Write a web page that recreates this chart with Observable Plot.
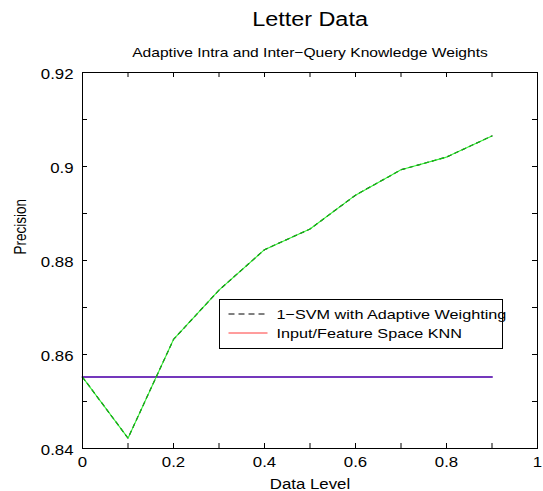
<!DOCTYPE html>
<html>
<head>
<meta charset="utf-8">
<script src="https://cdn.jsdelivr.net/npm/d3@7"></script>
<script src="https://cdn.jsdelivr.net/npm/@observablehq/plot@0.6"></script>
<style>
  html, body { margin: 0; padding: 0; background: #fff; }
  #chart { position: relative; width: 543px; height: 491px; }
  svg { font-family: "Liberation Sans", Arial, Helvetica, sans-serif; }
</style>
</head>
<body>
<div id="chart"></div>
<script>
// ---- data ----
const title = "Letter Data";
const subtitle = "Adaptive Intra and Inter\u2212Query Knowledge Weights";
const xLabel = "Data Level";
const yLabel = "Precision";
const dataLevels = [0, 0.1, 0.2, 0.3, 0.4, 0.5, 0.6, 0.7, 0.8, 0.9];
const svmPrecision = [0.8552, 0.8422, 0.8632, 0.8737, 0.8823, 0.8867, 0.8939, 0.8993, 0.9020, 0.9065];
const knnPrecision = [0.8552, 0.8552, 0.8552, 0.8552, 0.8552, 0.8552, 0.8552, 0.8552, 0.8552, 0.8552];
const seriesNames = ["1\u2212SVM with Adaptive Weighting", "Input/Feature Space KNN"];
const xTickLabels = [0, 0.2, 0.4, 0.6, 0.8, 1];
const xTickMarks = [0, 0.1, 0.2, 0.3, 0.4, 0.5, 0.6, 0.7, 0.8, 0.9, 1];
const yTickLabels = [0.84, 0.86, 0.88, 0.9, 0.92];
const yTickMarks = [0.84, 0.85, 0.86, 0.87, 0.88, 0.89, 0.9, 0.91, 0.92];

const svmData = dataLevels.map((x, i) => ({x, y: svmPrecision[i]}));
const knnData = dataLevels.map((x, i) => ({x, y: knnPrecision[i]}));

const W = 543, H = 491;
const M = {top: 72, right: 6, bottom: 43, left: 82};
const innerW = W - M.left - M.right, innerH = H - M.top - M.bottom;
const TL = 5; // tick length
const font = 14;
const STRETCH = 1.2; // reference text is horizontally widened

const plot = Plot.plot({
  width: W, height: H,
  marginTop: M.top, marginRight: M.right, marginBottom: M.bottom, marginLeft: M.left,
  style: {fontFamily: '"Liberation Sans", Arial, Helvetica, sans-serif', background: "#fff"},
  x: {domain: [0, 1]},
  y: {domain: [0.84, 0.92]},
  marks: [
    Plot.axisX({ticks: xTickLabels, tickSize: 0, tickPadding: 9, tickFormat: d => String(d), fontSize: font, label: null, color: "#000"}),
    Plot.axisY({ticks: yTickLabels, tickSize: 0, tickPadding: 9, dy: 2, tickFormat: d => String(d), fontSize: font, label: null, color: "#000"}),
    // inward ticks on all four sides
    Plot.tickX(xTickMarks, {x: d => d, insetTop: innerH - TL, stroke: "#000"}),
    Plot.tickX(xTickMarks, {x: d => d, insetBottom: innerH - TL, stroke: "#000"}),
    Plot.tickY(yTickMarks, {y: d => d, insetRight: innerW - TL, stroke: "#000"}),
    Plot.tickY(yTickMarks, {y: d => d, insetLeft: innerW - TL, stroke: "#000"}),
    // series
    Plot.line(knnData, {x: "x", y: "y", stroke: "#7438bc", strokeWidth: 2}),
    Plot.line(svmData, {x: "x", y: "y", stroke: "#000", strokeWidth: 1.2, strokeDasharray: "4,4"}),
    Plot.line(svmData, {x: "x", y: "y", stroke: "#10f010", strokeWidth: 1.1, strokeOpacity: 0.85}),
    Plot.frame({stroke: "#000"}),
    // titles
    Plot.text([title], {text: d => d, frameAnchor: "top", dy: -46.5, lineAnchor: "bottom", fontSize: 19.5, fill: "#000"}),
    Plot.text([subtitle], {text: d => d, frameAnchor: "top", dy: -16, lineAnchor: "bottom", fontSize: 13, fill: "#000"}),
    Plot.text([xLabel], {text: d => d, frameAnchor: "bottom", dy: 40, lineAnchor: "bottom", fontSize: font, fill: "#000"}),
    Plot.text([yLabel], {text: d => d, frameAnchor: "left", dx: -62, dy: -6, rotate: -90, fontSize: 13.5, fill: "#000"})
  ]
});
document.getElementById("chart").appendChild(plot);

// legend box inside the axes
const svg = d3.select(plot);
const lg = svg.append("g").attr("transform", "translate(219.5,299.5)");
lg.append("rect").attr("width", 283).attr("height", 49).attr("fill", "#fff").attr("stroke", "#000");
const entries = [
  {name: seriesNames[0], stroke: "#000", dash: "6,4"},
  {name: seriesNames[1], stroke: "#ff3b3b", dash: null}
];
entries.forEach((e, i) => {
  const y = 14.5 + i * 19;
  lg.append("line").attr("x1", 9).attr("x2", 48).attr("y1", y).attr("y2", y)
    .attr("stroke", e.stroke).attr("stroke-width", 1).attr("stroke-dasharray", e.dash);
  lg.append("text").attr("x", 57).attr("y", y).attr("dy", "0.35em")
    .attr("text-anchor", "start")
    .attr("font-size", 13.5).attr("fill", "#000").text(e.name);
});

// widen text horizontally like the reference
svg.selectAll("text").each(function() {
  if (this.textContent === yLabel) {
    // rotated label: widen its glyph height (which is horizontal on screen)
    const t = this.getAttribute("transform") || "";
    this.setAttribute("transform", t + " scale(1," + STRETCH + ")");
    return;
  }
  const L = this.getComputedTextLength();
  if (L > 0) {
    this.setAttribute("textLength", (L * STRETCH).toFixed(2));
    this.setAttribute("lengthAdjust", "spacingAndGlyphs");
  }
});
</script>
</body>
</html>
